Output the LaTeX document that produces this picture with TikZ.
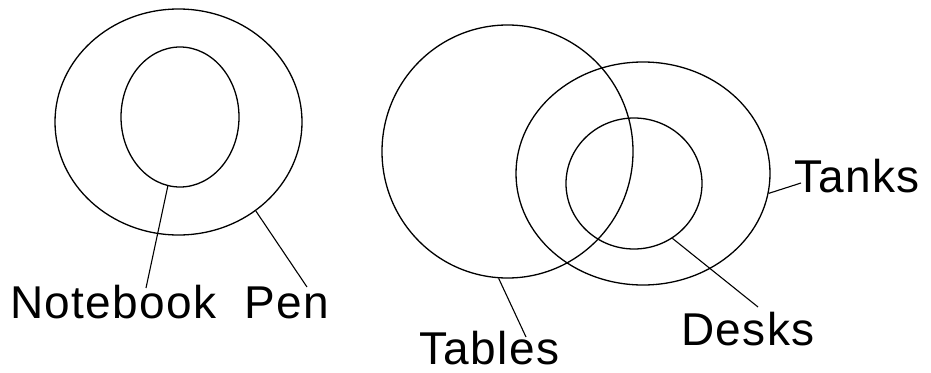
\documentclass[tikz,border=0pt]{standalone}
\usepackage{fontspec}
\setmainfont{Liberation Sans}[LetterSpace=3]
\usetikzlibrary{shapes.geometric}
\begin{document}
\begin{tikzpicture}[x=1pt,y=-1pt,
  ring/.style={draw, ellipse, inner sep=0pt, line width=1.3pt},
  lead/.style={line width=1.1pt},
  lab/.style={anchor=base west, inner sep=0pt, font=\fontsize{46}{46}\selectfont}]
\useasboundingbox (0,0) rectangle (931,372);
\fill[white] (0,0) rectangle (931,372);
% left group
\node[ring, minimum width=247pt, minimum height=226pt] (pen) at (178.5,122) {};
\node[ring, minimum width=118pt, minimum height=140pt] (notebook) at (180,117) {};
% right group
\node[ring, minimum width=251pt, minimum height=253pt] (tables) at (507.5,151.5) {};
\node[ring, minimum width=254pt, minimum height=223pt] (tanks) at (643,173.5) {};
\node[ring, minimum width=136pt, minimum height=131pt] (desks) at (634,183.5) {};
% labels
\node[lab] (tNotebook) at (10,318) {Notebook};
\node[lab] (tPen) at (244,318) {Pen};
\node[lab] (tTables) at (419,364) {Tables};
\node[lab] (tDesks) at (681,345) {Desks};
\node[lab] (tTanks) at (794,192) {Tanks};
% leader ends
\coordinate (eNotebook) at (146,288);
\coordinate (ePen) at (307,287);
\coordinate (eTables) at (526,337);
\coordinate (eDesks) at (758,307);
\coordinate (eTanks) at (801,183);
\draw[lead] (notebook.-100) -- (eNotebook);
\draw[lead] (pen.-49) -- (ePen);
\draw[lead] (tables.-94) -- (eTables);
\draw[lead] (desks.-55) -- (eDesks);
\draw[lead] (tanks.-9) -- (eTanks);
\end{tikzpicture}
\end{document}
